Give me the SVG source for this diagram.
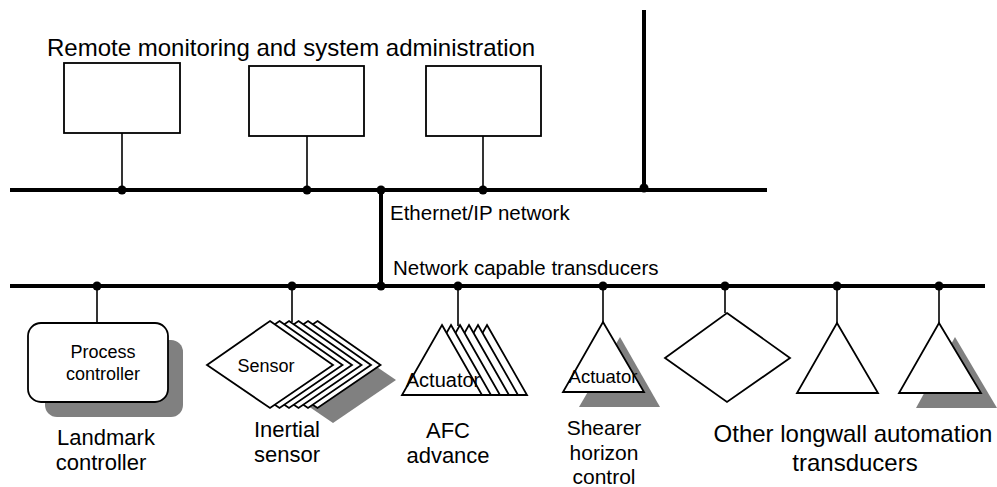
<svg xmlns="http://www.w3.org/2000/svg" width="997" height="487" viewBox="0 0 997 487">
<defs>
<style>
text{font-family:"Liberation Sans",Arial,sans-serif;fill:#000}
.bus{stroke:#000;stroke-width:4;fill:none}
.tap{stroke:#000;stroke-width:1.6;fill:none}
.shape{fill:#fff;stroke:#000;stroke-width:1.8;stroke-linejoin:miter}
.shadow{fill:#808080;stroke:none}
.dot{fill:#000}
.lbl{font-size:22px;text-anchor:middle}
.in{font-size:18px;text-anchor:middle}
</style>
</defs>
<rect width="997" height="487" fill="#fff"/>

<text x="47" y="56" font-size="24">Remote monitoring and system administration</text>
<text x="390" y="220" font-size="20.5">Ethernet/IP network</text>
<text x="393" y="275" font-size="20.5">Network capable transducers</text>

<g id="connectors">
<line class="bus" x1="10" y1="190" x2="767" y2="190"/>
<line class="bus" x1="10" y1="286" x2="985" y2="286"/>
<line class="bus" x1="644" y1="10" x2="644" y2="190"/>
<line class="bus" x1="381" y1="190" x2="381" y2="286"/>
<line class="tap" x1="122" y1="133" x2="122" y2="190"/>
<line class="tap" x1="307" y1="136" x2="307" y2="190"/>
<line class="tap" x1="483" y1="136" x2="483" y2="190"/>
<line class="tap" x1="97" y1="286" x2="97" y2="323"/>
<line class="tap" x1="292" y1="286" x2="292" y2="322"/>
<line class="tap" x1="458" y1="286" x2="458" y2="326"/>
<line class="tap" x1="603" y1="286" x2="603" y2="322"/>
<line class="tap" x1="725" y1="286" x2="725" y2="313"/>
<line class="tap" x1="837" y1="286" x2="837" y2="323"/>
<line class="tap" x1="939" y1="286" x2="939" y2="323"/>
<circle class="dot" cx="122" cy="190" r="4.5"/>
<circle class="dot" cx="307" cy="190" r="4.5"/>
<circle class="dot" cx="381" cy="190" r="4.5"/>
<circle class="dot" cx="483" cy="190" r="4.5"/>
<circle class="dot" cx="644" cy="188" r="4.5"/>
<circle class="dot" cx="97" cy="286" r="4.5"/>
<circle class="dot" cx="292" cy="286" r="4.5"/>
<circle class="dot" cx="381" cy="286" r="4.5"/>
<circle class="dot" cx="458" cy="286" r="4.5"/>
<circle class="dot" cx="603" cy="286" r="4.5"/>
<circle class="dot" cx="725" cy="286" r="4.5"/>
<circle class="dot" cx="837" cy="286" r="4.5"/>
<circle class="dot" cx="939" cy="286" r="4.5"/>
</g>

<g id="admin1"><rect class="shape" x="64" y="63" width="116" height="70"/></g>
<g id="admin2"><rect class="shape" x="249" y="66" width="115" height="70"/></g>
<g id="admin3"><rect class="shape" x="426" y="66" width="115" height="70"/></g>

<g id="landmark">
<rect class="shadow" x="45" y="340" width="138" height="77" rx="12"/>
<rect class="shape" x="28" y="323" width="140" height="79" rx="13"/>
<text class="in" x="103" y="358">Process</text>
<text class="in" x="103" y="380">controller</text>
<text class="lbl" x="106" y="445">Landmark</text>
<text class="lbl" x="101" y="470">controller</text>
</g>

<g id="inertial">
<polygon class="shadow" points="333,337 396,380 333,423 270,380"/>
<polygon class="shape" points="317.5,321 380.5,365 317.5,408 254.5,365"/>
<polygon class="shape" points="308,321 371,365 308,408 245,365"/>
<polygon class="shape" points="298.5,321 361.5,365 298.5,408 235.5,365"/>
<polygon class="shape" points="289,321 352,365 289,408 226,365"/>
<polygon class="shape" points="279.5,321 342.5,365 279.5,408 216.5,365"/>
<polygon class="shape" points="270,321 333,365 270,408 207,365"/>
<text class="in" x="266" y="372">Sensor</text>
<text class="lbl" x="287" y="437">Inertial</text>
<text class="lbl" x="287" y="462">sensor</text>
</g>

<g id="afc">
<polygon class="shape" points="487,325 527,395 447,395"/>
<polygon class="shape" points="478,325 518,395 438,395"/>
<polygon class="shape" points="469,325 509,395 429,395"/>
<polygon class="shape" points="460,325 500,395 420,395"/>
<polygon class="shape" points="451,325 491,395 411,395"/>
<polygon class="shape" points="442,325 482,395 402,395"/>
<text x="443" y="387" font-size="20" text-anchor="middle">Actuator</text>
<text class="lbl" x="448" y="438">AFC</text>
<text class="lbl" x="448" y="463">advance</text>
</g>

<g id="shearer">
<polygon class="shadow" points="620,337 660,407 579,407"/>
<polygon class="shape" points="603,322 644,392 563,392"/>
<text x="603" y="383" font-size="18.5" text-anchor="middle">Actuator</text>
<text x="604" y="435" font-size="21" text-anchor="middle">Shearer</text>
<text x="604" y="460" font-size="21" text-anchor="middle">horizon</text>
<text x="604" y="484" font-size="21" text-anchor="middle">control</text>
</g>

<g id="other-diamond">
<polygon class="shape" points="727,313 790,358 727,402 665,358"/>
</g>
<g id="other-triangle1">
<polygon class="shape" points="837,323 878,393 797,393"/>
</g>
<g id="other-triangle2">
<polygon class="shadow" points="955,337 997,408 916,408"/>
<polygon class="shape" points="939,323 981,393 899,393"/>
</g>
<g id="other-label">
<text x="853" y="442" font-size="24" text-anchor="middle">Other longwall automation</text>
<text x="855" y="471" font-size="24" text-anchor="middle">transducers</text>
</g>
</svg>
